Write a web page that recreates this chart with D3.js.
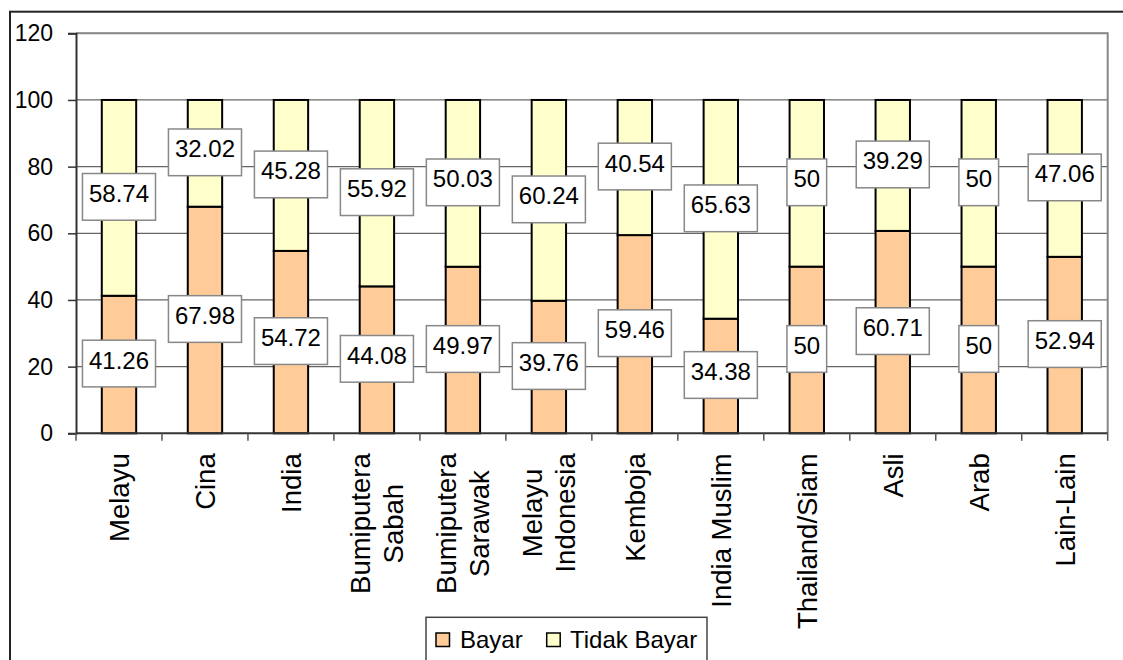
<!DOCTYPE html>
<html>
<head>
<meta charset="utf-8">
<script src="https://cdn.jsdelivr.net/npm/d3@7"></script>
<style>
  html, body { margin: 0; padding: 0; background: #fff; }
  svg { display: block; font-family: "Liberation Sans", Arial, sans-serif; }
</style>
</head>
<body>
<svg id="chart" width="1123" height="660"></svg>
<script>
// Ethnic groups (each label may span two lines)
const categories = [
  ["Melayu"], ["Cina"], ["India"], ["Bumiputera", "Sabah"], ["Bumiputera", "Sarawak"],
  ["Melayu", "Indonesia"], ["Kemboja"], ["India Muslim"], ["Thailand/Siam"],
  ["Asli"], ["Arab"], ["Lain-Lain"]
];
const bayar = [41.26, 67.98, 54.72, 44.08, 49.97, 39.76, 59.46, 34.38, 50, 60.71, 50, 52.94];
const tidakBayar = [58.74, 32.02, 45.28, 55.92, 50.03, 60.24, 40.54, 65.63, 50, 39.29, 50, 47.06];
const seriesNames = ["Bayar", "Tidak Bayar"];
const seriesColors = ["#FFCC99", "#FFFFCC"];
const yTicks = [0, 20, 40, 60, 80, 100, 120];

const svg = d3.select("#chart");
const plot = { left: 76, right: 1107.7, top: 33.3, bottom: 433.3 };

const keys = categories.map(c => c.join(" "));
const x = d3.scaleBand().domain(keys).range([plot.left, plot.right]).padding(0);
const y = d3.scaleLinear().domain([0, 120]).range([plot.bottom, plot.top]);
const barW = x.bandwidth() * 0.4;

// Outer chart frame
svg.append("rect")
  .attr("x", 10).attr("y", 11.7).attr("width", 1200).attr("height", 700)
  .attr("fill", "none").attr("stroke", "#222").attr("stroke-width", 2);

// Gridlines
svg.append("g").selectAll("line").data(yTicks.filter(t => t > 0)).join("line")
  .attr("x1", plot.left).attr("x2", plot.right)
  .attr("y1", d => y(d)).attr("y2", d => y(d))
  .attr("stroke", "#666").attr("stroke-width", 1.2);

// Plot border (top and right)
svg.append("path")
  .attr("d", `M${plot.left},${plot.top}H${plot.right}V${plot.bottom}`)
  .attr("fill", "none").attr("stroke", "#888").attr("stroke-width", 2);

// Stacked data
const rows = keys.map((k, i) => ({ key: k, Bayar: bayar[i], "Tidak Bayar": tidakBayar[i] }));
const stacked = d3.stack().keys(seriesNames)(rows);

// Bars
const barG = svg.append("g");
stacked.forEach((s, si) => {
  barG.append("g").selectAll("rect").data(s).join("rect")
    .attr("x", d => x(d.data.key) + (x.bandwidth() - barW) / 2)
    .attr("y", d => y(d[1]))
    .attr("width", barW)
    .attr("height", d => y(d[0]) - y(d[1]))
    .attr("fill", seriesColors[si])
    .attr("stroke", "#000").attr("stroke-width", 2);
});

// Axes
const yAxis = svg.append("g")
  .attr("transform", `translate(${plot.left},0)`)
  .call(d3.axisLeft(y).tickValues(yTicks).tickSize(8).tickPadding(15).tickFormat(d3.format("d")));
yAxis.select(".domain").attr("stroke", "#333").attr("stroke-width", 2);
yAxis.selectAll(".tick line").attr("stroke", "#333").attr("stroke-width", 1.5);
yAxis.selectAll(".tick text").attr("font-size", 23).attr("fill", "#000")
  .attr("font-family", "Liberation Sans, Arial, sans-serif");

// X axis line and tick marks at category boundaries
const xAxisG = svg.append("g");
xAxisG.append("line")
  .attr("x1", plot.left).attr("x2", plot.right)
  .attr("y1", plot.bottom).attr("y2", plot.bottom)
  .attr("stroke", "#333").attr("stroke-width", 2);
const bounds = keys.map(k => x(k)).concat([plot.right]);
xAxisG.selectAll("line.tk").data(bounds).join("line").attr("class", "tk")
  .attr("x1", d => d).attr("x2", d => d)
  .attr("y1", plot.bottom).attr("y2", plot.bottom + 7.5)
  .attr("stroke", "#555").attr("stroke-width", 1.5);

// Rotated category labels
const lineGap = 33;
categories.forEach((lines, i) => {
  const cx = x(keys[i]) + x.bandwidth() / 2;
  const g = svg.append("g");
  const t = g.append("text")
    .attr("font-size", 27.5).attr("fill", "#000").attr("text-anchor", "middle");
  lines.forEach((ln, li) => {
    t.append("tspan")
      .attr("x", 0)
      .attr("y", (li - (lines.length - 1) / 2) * lineGap)
      .attr("dy", "0.36em")
      .text(ln);
  });
  const maxLen = d3.max(t.selectAll("tspan").nodes(), n => n.getComputedTextLength());
  g.attr("transform", `translate(${cx},${plot.bottom + 20 + maxLen / 2}) rotate(-90)`);
});

// Value labels in boxes at segment midpoints
const labelG = svg.append("g");
stacked.forEach(s => {
  s.forEach(d => {
    const value = d[1] - d[0];
    const cx = x(d.data.key) + x.bandwidth() / 2;
    const cy = y((d[0] + d[1]) / 2) - 1;
    const g = labelG.append("g");
    const box = g.append("rect").attr("fill", "#fff").attr("stroke", "#888").attr("stroke-width", 1.5);
    const txt = g.append("text")
      .attr("x", cx).attr("y", cy + 5)
      .attr("text-anchor", "middle").attr("font-size", 24).attr("fill", "#000")
      .text(String(+value.toFixed(2)));
    const w = txt.node().getComputedTextLength() + 13;
    const h = 46.7;
    box.attr("x", cx - w / 2).attr("y", cy - h / 2).attr("width", w).attr("height", h);
  });
});

// Legend
const legend = svg.append("g");
legend.append("rect")
  .attr("x", 426).attr("y", 617.3).attr("width", 281).attr("height", 60)
  .attr("fill", "#fff").attr("stroke", "#444").attr("stroke-width", 1.5);
const legendItems = [{ x: 436, tx: 460, name: seriesNames[0], color: seriesColors[0] },
                     { x: 546.7, tx: 570, name: seriesNames[1], color: seriesColors[1] }];
legendItems.forEach(it => {
  legend.append("rect")
    .attr("x", it.x).attr("y", 633).attr("width", 13.5).attr("height", 13.5)
    .attr("fill", it.color).attr("stroke", "#000").attr("stroke-width", 1.5);
  legend.append("text")
    .attr("x", it.tx).attr("y", 648)
    .attr("font-size", 24).attr("fill", "#000")
    .text(it.name);
});
</script>
</body>
</html>
